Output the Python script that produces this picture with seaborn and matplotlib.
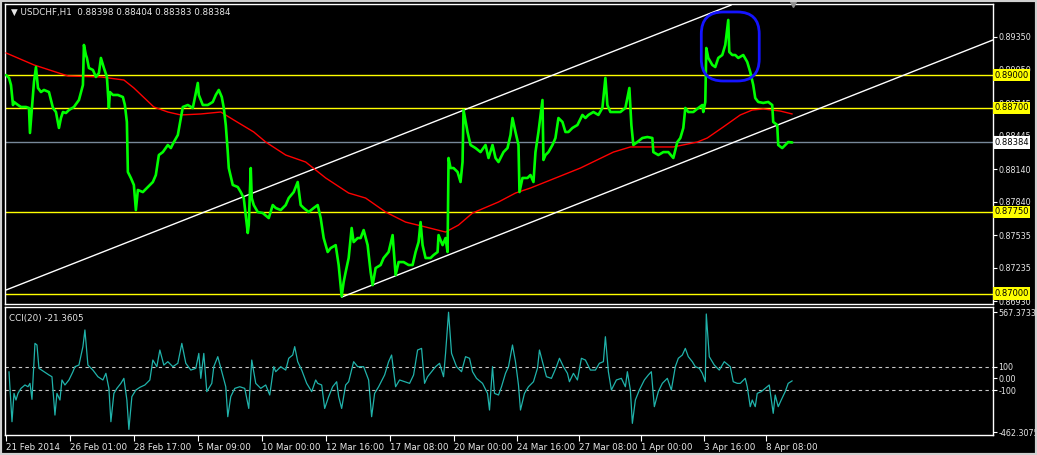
import matplotlib
matplotlib.use("Agg")
import matplotlib.pyplot as plt
import matplotlib.transforms as mtransforms
from matplotlib.patches import FancyBboxPatch, Rectangle
import numpy as np
import pandas as pd
import seaborn as sns

# ---------------- data ----------------
title_text = "USDCHF,H1  0.88398 0.88404 0.88383 0.88384"
cci_title = "CCI(20) -21.3605"

price_bar = [0, 3, 5, 7, 8, 12, 15, 20, 23, 24, 26, 27, 28, 30, 32, 35, 38, 43, 47, 50,
             53, 55, 57, 60, 63, 68, 73, 77, 78, 80, 81, 83, 87, 90, 93, 95, 98, 101, 103, 104,
             107, 112, 117, 119, 121, 122, 125, 128, 130, 132, 137, 142, 147, 150, 153, 157, 162, 165, 168, 172,
             175, 177, 182, 187, 192, 193, 197, 202, 207, 210, 213, 216, 218, 220, 222, 223, 227, 232, 235, 238,
             242, 243, 245, 246, 248, 252, 257, 263, 267, 270, 275, 280, 283, 288, 292, 295, 298, 303, 308, 312,
             315, 318, 322, 325, 330, 333, 336, 338, 340, 343, 346, 348, 352, 355, 358, 362, 365, 367, 370, 375,
             378, 383, 387, 390, 393, 398, 403, 407, 410, 413, 415, 417, 420, 425, 428, 432, 433, 437, 440, 442,
             443, 445, 448, 452, 455, 457, 458, 462, 465, 470, 475, 480, 483, 487, 490, 493, 498, 502, 505, 507,
             510, 513, 514, 517, 522, 525, 528, 530, 533, 537, 538, 540, 543, 547, 550, 553, 557, 560, 563, 567,
             572, 577, 580, 583, 588, 593, 597, 600, 602, 605, 610, 615, 620, 624, 626, 628, 632, 637, 642, 647,
             648, 653, 658, 663, 668, 672, 675, 678, 680, 683, 688, 693, 697, 698, 700, 701, 703, 707, 710, 713,
             717, 720, 723, 724, 727, 730, 733, 738, 742, 745, 748, 750, 753, 758, 763, 767, 768, 772, 773, 777,
             780, 783, 787]
price_close = [0.89002, 0.88975, 0.88910, 0.88727, 0.88755, 0.88727, 0.88709, 0.88709, 0.88700, 0.88471,
               0.88700, 0.88819, 0.88938, 0.89075, 0.88883, 0.88846, 0.88865, 0.88846, 0.88700, 0.88663,
               0.88517, 0.88608, 0.88663, 0.88654, 0.88681, 0.88709, 0.88773, 0.88910, 0.89277, 0.89185,
               0.89158, 0.89066, 0.89048, 0.88984, 0.89020, 0.89158, 0.89066, 0.88984, 0.88700, 0.88846,
               0.88819, 0.88819, 0.88800, 0.88727, 0.88572, 0.88114, 0.88059, 0.87995, 0.87765, 0.87949,
               0.87930, 0.87976, 0.88022, 0.88086, 0.88269, 0.88296, 0.88361, 0.88333, 0.88388, 0.88452,
               0.88608, 0.88709, 0.88727, 0.88700, 0.88929, 0.88819, 0.88727, 0.88727, 0.88755, 0.88819,
               0.88865, 0.88800, 0.88700, 0.88544, 0.88296, 0.88150, 0.87995, 0.87976, 0.87930, 0.87875,
               0.87555, 0.87628, 0.88150, 0.87875, 0.87811, 0.87747, 0.87738, 0.87692, 0.87811, 0.87784,
               0.87765, 0.87811, 0.87875, 0.87930, 0.88022, 0.87811, 0.87784, 0.87747, 0.87784, 0.87811,
               0.87692, 0.87509, 0.87381, 0.87417, 0.87444, 0.87262, 0.86975, 0.87106, 0.87197, 0.87326,
               0.87601, 0.87472, 0.87509, 0.87509, 0.87582, 0.87444, 0.87197, 0.87078, 0.87234, 0.87262,
               0.87326, 0.87381, 0.87536, 0.87170, 0.87289, 0.87289, 0.87262, 0.87262, 0.87381, 0.87472,
               0.87655, 0.87444, 0.87326, 0.87326, 0.87353, 0.87381, 0.87536, 0.87444, 0.87509, 0.87381,
               0.88242, 0.88150, 0.88150, 0.88114, 0.88022, 0.88205, 0.88681, 0.88480, 0.88361, 0.88333,
               0.88296, 0.88361, 0.88242, 0.88361, 0.88242, 0.88205, 0.88296, 0.88333, 0.88452, 0.88608,
               0.88480, 0.88361, 0.87930, 0.88059, 0.88059, 0.88086, 0.88022, 0.88296, 0.88480, 0.88773,
               0.88224, 0.88269, 0.88296, 0.88361, 0.88425, 0.88608, 0.88572, 0.88480, 0.88480, 0.88517,
               0.88544, 0.88636, 0.88608, 0.88636, 0.88663, 0.88636, 0.88700, 0.88975, 0.88727, 0.88663,
               0.88663, 0.88663, 0.88700, 0.88883, 0.88544, 0.88361, 0.88388, 0.88425, 0.88434, 0.88425,
               0.88296, 0.88269, 0.88296, 0.88296, 0.88242, 0.88388, 0.88425, 0.88517, 0.88700, 0.88663,
               0.88663, 0.88700, 0.88727, 0.88663, 0.88755, 0.89249, 0.89158, 0.89094, 0.89075, 0.89158,
               0.89185, 0.89277, 0.89506, 0.89213, 0.89185, 0.89185, 0.89158, 0.89185, 0.89121, 0.89029,
               0.88910, 0.88791, 0.88755, 0.88746, 0.88755, 0.88727, 0.88572, 0.88544, 0.88361, 0.88333,
               0.88361, 0.88388, 0.88384]

ma_bar = [0, 28, 62, 95, 118, 128, 148, 162, 175, 195, 215, 228, 248, 260, 280, 300, 320, 343, 360, 380,
          400, 420, 440, 453, 467, 493, 510, 525, 545, 575, 608, 625, 642, 668, 692, 702, 718, 735, 747, 758,
          775, 787]
ma_value = [0.89204, 0.89094, 0.88993, 0.88984, 0.88956, 0.88883, 0.88709, 0.88663, 0.88636, 0.88645,
            0.88663, 0.88590, 0.88480, 0.88388, 0.88269, 0.88205, 0.88059, 0.87921, 0.87875, 0.87747,
            0.87655, 0.87610, 0.87564, 0.87628, 0.87738, 0.87839, 0.87921, 0.87967, 0.88040, 0.88150,
            0.88296, 0.88343, 0.88343, 0.88343, 0.88388, 0.88425, 0.88526, 0.88636, 0.88681, 0.88691,
            0.88672, 0.88645]

cci_bar = [3, 6, 8, 10, 12, 15, 19, 22, 24, 26, 29, 31, 33, 38, 43, 46, 49, 51, 54, 56,
           59, 63, 67, 69, 73, 77, 79, 82, 87, 92, 97, 100, 103, 105, 108, 111, 115, 118, 121, 123,
           126, 130, 134, 139, 144, 147, 151, 154, 158, 162, 167, 172, 176, 180, 185, 190, 193, 195, 198, 201,
           206, 208, 212, 216, 220, 222, 225, 229, 234, 239, 243, 246, 250, 255, 260, 264, 268, 270, 275, 280,
           283, 287, 289, 292, 296, 301, 306, 310, 312, 316, 319, 323, 327, 331, 333, 336, 340, 343, 348, 352,
           358, 363, 366, 369, 373, 379, 383, 386, 390, 394, 399, 404, 408, 412, 416, 419, 422, 426, 430, 434,
           438, 440, 443, 446, 451, 456, 460, 464, 467, 471, 477, 482, 484, 487, 489, 493, 496, 500, 503, 507,
           510, 513, 515, 519, 523, 528, 532, 534, 537, 541, 546, 551, 554, 558, 562, 564, 568, 572, 576, 580,
           585, 590, 594, 598, 600, 603, 606, 611, 616, 620, 622, 625, 627, 630, 634, 639, 643, 646, 649, 653,
           657, 662, 666, 670, 673, 677, 680, 683, 687, 690, 694, 697, 700, 701, 704, 709, 714, 719, 723, 725,
           728, 732, 735, 740, 742, 745, 747, 750, 752, 756, 760, 764, 768, 770, 773, 776, 780, 783, 787]
cci_value = [57, -372, -129, -186, -129, -86, -57, -72, -43, -180, 300, 286, 86, 57, 29, 14, -315, -129, -186, -14,
             -57, -14, 57, 100, 114, 272, 415, 114, 71, 14, -14, 43, -86, -372, -129, -86, -43, 0, -186, -438,
             -157, -100, -77, -57, -14, 157, 100, 243, 114, 143, 100, 129, 300, 129, 71, 86, 214, 0, 214, -114,
             -43, 100, 186, 57, -72, -329, -157, -86, -72, -86, -258, 157, -43, -86, -57, -143, 100, 57, 100, 71,
             172, 200, 272, 143, 71, -43, -114, -14, -43, -57, -258, -157, -72, -29, -157, -258, -57, -29, 143, 100,
             100, -14, -329, -129, -72, 29, 143, 200, -72, -14, -29, -43, 29, 243, 257, -43, 14, 57, 100, 129,
             14, 214, 567, 214, 100, 57, 186, 172, 57, 0, -43, -129, -272, 100, -129, -143, -72, 43, 100, 286,
             143, -57, -272, -129, -72, -29, 86, 243, 143, 14, 0, 100, 172, 100, 43, -29, 43, -14, 172, 157,
             71, 71, 129, 143, 357, 57, -100, -14, 0, -72, 57, -100, -386, -186, -100, -14, 29, 57, -243, -114,
             -43, 0, -100, 100, 172, 200, 257, 186, 143, 100, 86, 43, -29, 552, 186, 114, 71, 143, 114, 100,
             -29, -43, -43, 0, -72, -243, -186, -243, -129, -114, -86, -57, -300, -143, -243, -186, -114, -43, -21.36]

level_prices = [0.89000, 0.88700, 0.87750, 0.87000]
current_price = 0.88384
price_ticks = [0.89350, 0.89050, 0.88745, 0.88445, 0.88140, 0.87840, 0.87535, 0.87235, 0.86930]
cci_ticks = [567.3733, 100, 0, -100, -462.3075]
cci_tick_labels = ["567.3733", "100", "0.00", "-100", "-462.3075"]
cci_levels = [100, -100]
time_tick_bars = [0, 64, 128, 192, 256, 320, 384, 448, 512, 574, 636, 699, 761]
time_tick_labels = ["21 Feb 2014", "26 Feb 01:00", "28 Feb 17:00", "5 Mar 09:00", "10 Mar 00:00",
                    "12 Mar 16:00", "17 Mar 08:00", "20 Mar 00:00", "24 Mar 16:00", "27 Mar 08:00",
                    "1 Apr 00:00", "3 Apr 16:00", "8 Apr 08:00"]
channel_upper_bar = [0, 726]
channel_upper_price = [0.87033, 0.89643]
channel_lower_bar = [336, 988]
channel_lower_price = [0.86968, 0.89323]
highlight_bars = [696, 754]
highlight_prices = [0.88947, 0.89579]
shift_marker_bar = 788

# ---------------- figure ----------------
sns.set_theme(style="dark")
plt.rcParams['font.family'] = ['DejaVu Sans']

W, H = 1037, 455
fig = plt.figure(figsize=(W / 100, H / 100), dpi=100, facecolor='black')
ax = fig.add_axes([5 / W, 1 - 304 / H, 988 / W, 300 / H])
ax2 = fig.add_axes([5 / W, 1 - 435 / H, 988 / W, 128 / H])

FS = 5.8
TXT = '#e6e6e6'
for a in (ax, ax2):
    a.set_facecolor('black')
    a.grid(False)
    for s in a.spines.values():
        s.set_color('white')
        s.set_linewidth(1.0)
    a.set_xlim(-1, 988)
    a.yaxis.tick_right()
    a.tick_params(axis='y', colors='white', labelcolor=TXT, labelsize=FS, length=3,
                  width=0.8, pad=1, direction='out', right=True, left=False)

# main price panel
ax.set_ylim(0.86905, 0.89652)
for lv in level_prices:
    ax.axhline(lv, color='#ffff00', lw=1.0, zorder=1)
ax.axhline(current_price, color='#778899', lw=1.0, zorder=1)

sns.lineplot(x=channel_upper_bar, y=channel_upper_price, ax=ax, color='white', lw=1.0,
             estimator=None, zorder=2)
sns.lineplot(x=channel_lower_bar, y=channel_lower_price, ax=ax, color='white', lw=1.0,
             estimator=None, zorder=2)

df_ma = pd.DataFrame({'bar': ma_bar, 'ma': ma_value})
sns.lineplot(data=df_ma, x='bar', y='ma', ax=ax, color='#ff0000', lw=1.0, estimator=None, zorder=3)

df_price = pd.DataFrame({'bar': price_bar, 'close': price_close})
sns.lineplot(data=df_price, x='bar', y='close', ax=ax, color='#00ff00', lw=1.9, estimator=None, zorder=4)

box = FancyBboxPatch((highlight_bars[0], highlight_prices[0]),
                     highlight_bars[1] - highlight_bars[0],
                     highlight_prices[1] - highlight_prices[0],
                     boxstyle="round,pad=0,rounding_size=22", mutation_aspect=9.156e-5,
                     ec='#1414ff', fc='none', lw=2.0, zorder=5)
ax.add_patch(box)

ax.set_yticks(price_ticks)
ax.set_yticklabels([f"{v:.5f}" for v in price_ticks])
ax.tick_params(axis='x', bottom=False, labelbottom=False)
ax.set_xlabel('')
ax.set_ylabel('')

trans = mtransforms.blended_transform_factory(ax.transAxes, ax.transData)
for lv in level_prices:
    ax.text(1.0012, lv, f"{lv:.5f}", transform=trans, ha='left', va='center', fontsize=6.0,
            color='black', clip_on=False, zorder=6,
            bbox=dict(boxstyle='square,pad=0.2', fc='#ffff00', ec='none'))
ax.text(1.0012, current_price, f"{current_price:.5f}", transform=trans, ha='left', va='center',
        fontsize=6.0, color='black', clip_on=False, zorder=6,
        bbox=dict(boxstyle='square,pad=0.2', fc='white', ec='none'))

ax.text(0.006, 0.972, "\u25BC " + title_text, transform=ax.transAxes, ha='left', va='center',
        fontsize=6.3, color=TXT, zorder=6)
ax.plot([shift_marker_bar], [0.89652], marker='v', ms=5, color='#909090', mec='#909090',
        clip_on=False, zorder=7)

# CCI panel
ax2.set_ylim(-486, 612)
for lv in cci_levels:
    ax2.axhline(lv, color='#c8c8c8', lw=0.8, ls=(0, (3, 3)), zorder=1)
df_cci = pd.DataFrame({'bar': cci_bar, 'cci': cci_value})
sns.lineplot(data=df_cci, x='bar', y='cci', ax=ax2, color='#20b2aa', lw=0.9, estimator=None, zorder=3)
ax2.set_yticks(cci_ticks)
ax2.set_yticklabels(cci_tick_labels)
ax2.set_xticks(time_tick_bars)
ax2.set_xticklabels(time_tick_labels, ha='left')
ax2.tick_params(axis='x', colors='white', labelcolor=TXT, labelsize=6.3, length=4, width=0.8,
                pad=2, direction='out', bottom=True)
ax2.set_xlabel('')
ax2.set_ylabel('')
ax2.text(0.004, 0.91, cci_title, transform=ax2.transAxes, ha='left', va='center',
         fontsize=6.3, color=TXT, zorder=6)

fig.patches.append(Rectangle((0, 0), 1, 1, transform=fig.transFigure, fill=False,
                             ec='#d0d0d0', lw=3))

fig.savefig("out.png", dpi=100, facecolor='black')
